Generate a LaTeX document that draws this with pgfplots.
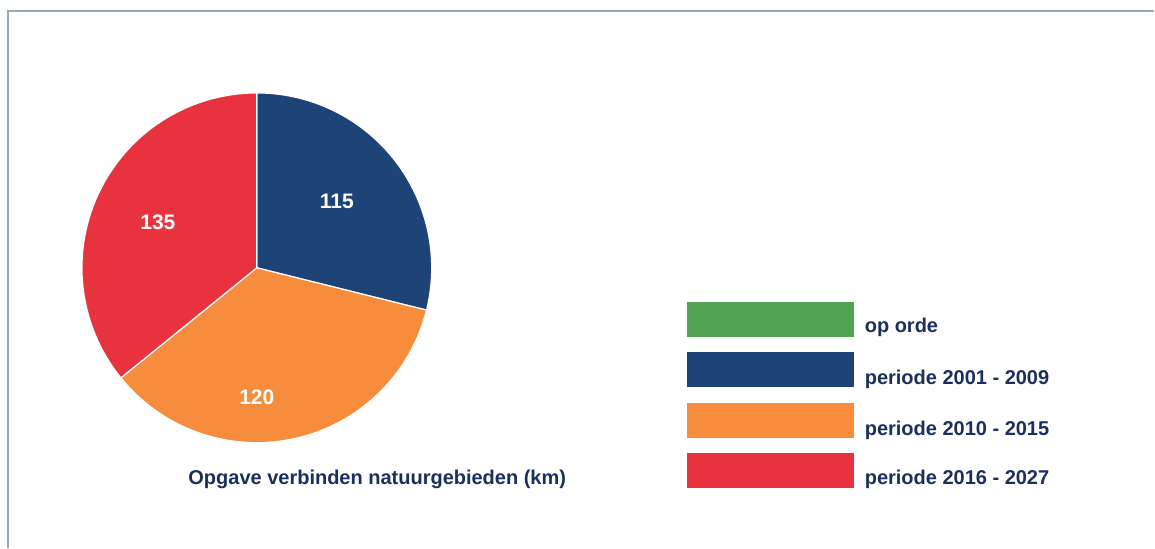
\documentclass[border=0pt]{standalone}
\usepackage{pgfplots}
\pgfplotsset{compat=1.18}
\usepackage{pgfplotstable}
\usepackage{fontspec}
\setmainfont{Liberation Sans}
\definecolor{pieblue}{HTML}{1E4376}
\definecolor{pieorange}{HTML}{F68C3C}
\definecolor{piered}{HTML}{E8333F}
\definecolor{piegreen}{HTML}{51A453}
\definecolor{navytext}{HTML}{1B2F5E}
\definecolor{framecol}{HTML}{97A7BE}
% slice: label value (km) and the angle each slice takes in the drawing (deg)
\pgfplotstableread{
slice value span
blue 115 104
orange 120 127
red 135 129
}\piedata
\begin{document}
\begin{tikzpicture}
\pgfplotstablegetelem{0}{span}\of\piedata \let\spanA\pgfplotsretval
\pgfplotstablegetelem{1}{span}\of\piedata \let\spanB\pgfplotsretval
\pgfplotstablegetelem{2}{span}\of\piedata \let\spanC\pgfplotsretval
\pgfplotstablegetelem{0}{value}\of\piedata \let\valA\pgfplotsretval
\pgfplotstablegetelem{1}{value}\of\piedata \let\valB\pgfplotsretval
\pgfplotstablegetelem{2}{value}\of\piedata \let\valC\pgfplotsretval
\pgfmathsetmacro\aA{90}
\pgfmathsetmacro\aB{\aA-\spanA}
\pgfmathsetmacro\aC{\aB-\spanB}
\pgfmathsetmacro\aD{\aC-\spanC}
\begin{axis}[width=577.5pt, height=274pt, scale only axis,
  xmin=0, xmax=1155, ymin=0, ymax=548, hide axis, clip=false]
\path (axis cs:0,0) rectangle (axis cs:1155,548);
% frame
\draw[framecol, line width=0.8pt] (axis cs:8,0) -- (axis cs:8,537) -- (axis cs:1155,537);
% pie slices
\addplot[fill=pieblue, draw=white, line width=0.6pt, domain=\aB:\aA, samples=80, variable=\t]
  ({257+175*cos(\t)}, {280+175*sin(\t)}) -- (axis cs:257,280) -- cycle;
\addplot[fill=pieorange, draw=white, line width=0.6pt, domain=\aC:\aB, samples=80, variable=\t]
  ({257+175*cos(\t)}, {280+175*sin(\t)}) -- (axis cs:257,280) -- cycle;
\addplot[fill=piered, draw=white, line width=0.6pt, domain=\aD:\aC, samples=80, variable=\t]
  ({257+175*cos(\t)}, {280+175*sin(\t)}) -- (axis cs:257,280) -- cycle;
% slice labels
\node[white, font=\bfseries\fontsize{10.5}{12}\selectfont] at (axis cs:337,346) {\valA};
\node[white, font=\bfseries\fontsize{10.5}{12}\selectfont] at (axis cs:257,150) {\valB};
\node[white, font=\bfseries\fontsize{10.5}{12}\selectfont] at (axis cs:158,326) {\valC};
% title
\node[navytext, anchor=base, font=\bfseries\fontsize{10}{12}\selectfont] at (axis cs:377.5,63) {Opgave verbinden natuurgebieden (km)};
% legend
\addplot[fill=piegreen, draw=none] coordinates {(687,211) (855,211) (855,246) (687,246)} -- cycle;
\addplot[fill=pieblue, draw=none] coordinates {(687,161) (855,161) (855,196) (687,196)} -- cycle;
\addplot[fill=pieorange, draw=none] coordinates {(687,110) (855,110) (855,145) (687,145)} -- cycle;
\addplot[fill=piered, draw=none] coordinates {(687,60) (855,60) (855,95) (687,95)} -- cycle;
\node[navytext, anchor=base west, inner sep=0pt, font=\bfseries\fontsize{10}{12}\selectfont] at (axis cs:865,215) {op orde};
\node[navytext, anchor=base west, inner sep=0pt, font=\bfseries\fontsize{10}{12}\selectfont] at (axis cs:865,163) {periode 2001 - 2009};
\node[navytext, anchor=base west, inner sep=0pt, font=\bfseries\fontsize{10}{12}\selectfont] at (axis cs:865,112) {periode 2010 - 2015};
\node[navytext, anchor=base west, inner sep=0pt, font=\bfseries\fontsize{10}{12}\selectfont] at (axis cs:865,63) {periode 2016 - 2027};
\end{axis}
\end{tikzpicture}
\end{document}
